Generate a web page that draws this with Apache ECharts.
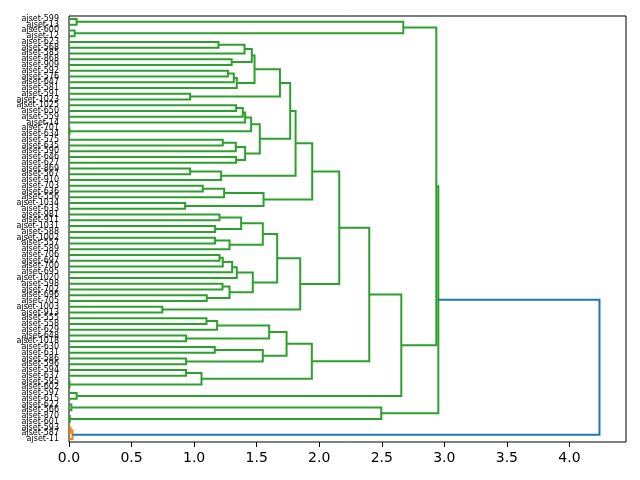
<!DOCTYPE html>
<html>
<head>
<meta charset="utf-8">
<script src="https://cdn.jsdelivr.net/npm/echarts@6/dist/echarts.min.js"></script>
<style>
  html, body { margin: 0; background: #fff; }
  #chart { width: 640px; height: 480px; }
</style>
</head>
<body>
<div id="chart"></div>
<script>
// leaf labels, top to bottom as drawn
const leafLabels = [
  'ajset-599', 'ajset-13', 'ajset-600', 'ajset-12', 'ajset-623', 'ajset-568', 'ajset-585', 'ajset-868',
  'ajset-909', 'ajset-592', 'ajset-576', 'ajset-647', 'ajset-581', 'ajset-591', 'ajset-1023', 'ajset-1025',
  'ajset-650', 'ajset-559', 'ajset-14', 'ajset-701', 'ajset-634', 'ajset-575', 'ajset-635', 'ajset-590',
  'ajset-646', 'ajset-627', 'ajset-869', 'ajset-567', 'ajset-910', 'ajset-703', 'ajset-636', 'ajset-556',
  'ajset-1034', 'ajset-633', 'ajset-981', 'ajset-911', 'ajset-1031', 'ajset-588', 'ajset-1002', 'ajset-557',
  'ajset-589', 'ajset-706', 'ajset-697', 'ajset-700', 'ajset-695', 'ajset-1020', 'ajset-598', 'ajset-702',
  'ajset-696', 'ajset-705', 'ajset-1003', 'ajset-913', 'ajset-555', 'ajset-558', 'ajset-629', 'ajset-648',
  'ajset-1018', 'ajset-630', 'ajset-631', 'ajset-586', 'ajset-596', 'ajset-594', 'ajset-637', 'ajset-595',
  'ajset-602', 'ajset-597', 'ajset-615', 'ajset-622', 'ajset-566', 'ajset-870', 'ajset-601', 'ajset-593',
  'ajset-587', 'ajset-11'
];

// linkage: ids 0..73 are leaves (top to bottom), 74+ are the merges below in order
const mergeLeft = [
  0, 2, 74, 4, 77, 7, 78, 9, 81, 82, 80, 13, 84,
  15, 87, 88, 19, 89, 21, 92, 24, 93, 91, 86,
  26, 98, 97, 29, 101, 32, 102, 100,
  34, 36, 106, 38, 109, 108, 41, 112, 113, 114, 46, 48, 116, 115, 111, 50, 120,
  52, 123, 55, 124, 57, 59, 127, 126, 61, 63, 131, 130,
  105, 135, 65, 136, 76, 67, 69, 140, 139, 71, 144, 143
];
const mergeRight = [
  1, 3, 75, 5, 6, 8, 79, 10, 11, 12, 83, 14, 85,
  16, 17, 18, 20, 90, 22, 23, 25, 94, 95, 96,
  27, 28, 99, 30, 31, 33, 103, 104,
  35, 37, 107, 39, 40, 110, 42, 43, 44, 45, 47, 49, 117, 118, 119, 51, 121,
  53, 54, 56, 125, 58, 60, 128, 129, 62, 64, 132, 133,
  122, 134, 66, 137, 138, 68, 70, 141, 142, 72, 73, 145
];
const mergeHeight = [
  0.061, 0.045, 2.672, 1.195, 1.403, 1.300, 1.461, 1.270, 1.317, 1.341, 1.483, 0.968, 1.686,
  1.336, 1.389, 1.408, 0.004, 1.456, 1.229, 1.333, 1.336, 1.408, 1.525, 1.768,
  0.968, 1.216, 1.811, 1.069, 1.240, 0.928, 1.555, 1.944,
  1.203, 1.168, 1.376, 1.168, 1.283, 1.549, 1.203, 1.229, 1.304, 1.341, 1.227, 1.101, 1.283, 1.469, 1.664, 0.746, 1.848,
  1.099, 1.184, 0.936, 1.600, 1.165, 0.936, 1.549, 1.739, 0.936, 0.004, 1.059, 1.941,
  2.160, 2.400, 0.061, 2.656, 2.936, 0.019, 0.006, 2.496, 2.952, 0.012, 0.028, 4.240
];

const xTicks = [0, 0.5, 1, 1.5, 2, 2.5, 3, 3.5, 4];

const palette = ['#ff7f0e', '#2ca02c', '#d62728', '#9467bd'];
const aboveColor = '#1f77b4';

// scipy-like layout: leaf i sits at 5 + 10 * (its place counted from the bottom)
const n = leafLabels.length;
const pos = [];
const height = [];
const leavesOf = [];
for (let i = 0; i < n; i++) {
  pos[i] = 5 + 10 * (n - 1 - i);
  height[i] = 0;
  leavesOf[i] = [i];
}
const parent = [];
mergeHeight.forEach((h, k) => {
  const id = n + k;
  const a = mergeLeft[k], b = mergeRight[k];
  pos[id] = (pos[a] + pos[b]) / 2;
  height[id] = h;
  leavesOf[id] = leavesOf[a].concat(leavesOf[b]);
  parent[a] = id;
  parent[b] = id;
});

// colour groups: clusters under the threshold whose parent is above it
const maxH = Math.max(...mergeHeight);
const threshold = 0.7 * maxH;
const groupRoots = [];
mergeHeight.forEach((h, k) => {
  const id = n + k;
  const p = parent[id];
  if (h < threshold && (p === undefined || height[p] >= threshold)) groupRoots.push(id);
});
groupRoots.sort((a, b) => Math.min(...leavesOf[a].map(l => pos[l])) - Math.min(...leavesOf[b].map(l => pos[l])));
const colorOf = {};
groupRoots.forEach((g, gi) => {
  const c = palette[gi % palette.length];
  mergeHeight.forEach((h, k) => {
    const id = n + k;
    if (leavesOf[id].every(l => leavesOf[g].includes(l)) && h < threshold) colorOf[id] = c;
  });
});

const links = mergeHeight.map((h, k) => {
  const id = n + k;
  const a = mergeLeft[k], b = mergeRight[k];
  return {
    coords: [[height[a], pos[a]], [h, pos[a]], [h, pos[b]], [height[b], pos[b]]],
    lineStyle: { color: colorOf[id] || aboveColor }
  };
});

const chart = echarts.init(document.getElementById('chart'), null, { renderer: 'canvas' });
chart.setOption({
  animation: false,
  backgroundColor: '#fff',
  textStyle: { fontFamily: 'DejaVu Sans' },
  grid: {
    left: 69, right: 14, top: 16, bottom: 38,
    show: true, borderColor: '#000', borderWidth: 1, backgroundColor: 'transparent'
  },
  xAxis: {
    type: 'value',
    min: 0,
    max: maxH * 1.05,
    splitLine: { show: false },
    axisLine: { show: false },
    axisTick: { show: true, length: 5, customValues: xTicks, lineStyle: { color: '#000', width: 1 } },
    axisLabel: {
      customValues: xTicks,
      margin: 9,
      fontSize: 14,
      color: '#000',
      fontFamily: 'DejaVu Sans',
      formatter: v => v.toFixed(1)
    }
  },
  yAxis: [
    {
      type: 'category',
      data: leafLabels.slice().reverse(),
      axisLine: { show: false },
      axisTick: { show: false },
      splitLine: { show: false },
      axisLabel: { interval: 0, fontSize: 8, margin: 10, color: '#000', fontFamily: 'DejaVu Sans' }
    },
    {
      type: 'value',
      min: 0,
      max: n * 10,
      show: false
    }
  ],
  series: [{
    type: 'lines',
    coordinateSystem: 'cartesian2d',
    xAxisIndex: 0,
    yAxisIndex: 1,
    polyline: true,
    silent: true,
    lineStyle: { width: 2, opacity: 1 },
    data: links
  }]
});
</script>
</body>
</html>
